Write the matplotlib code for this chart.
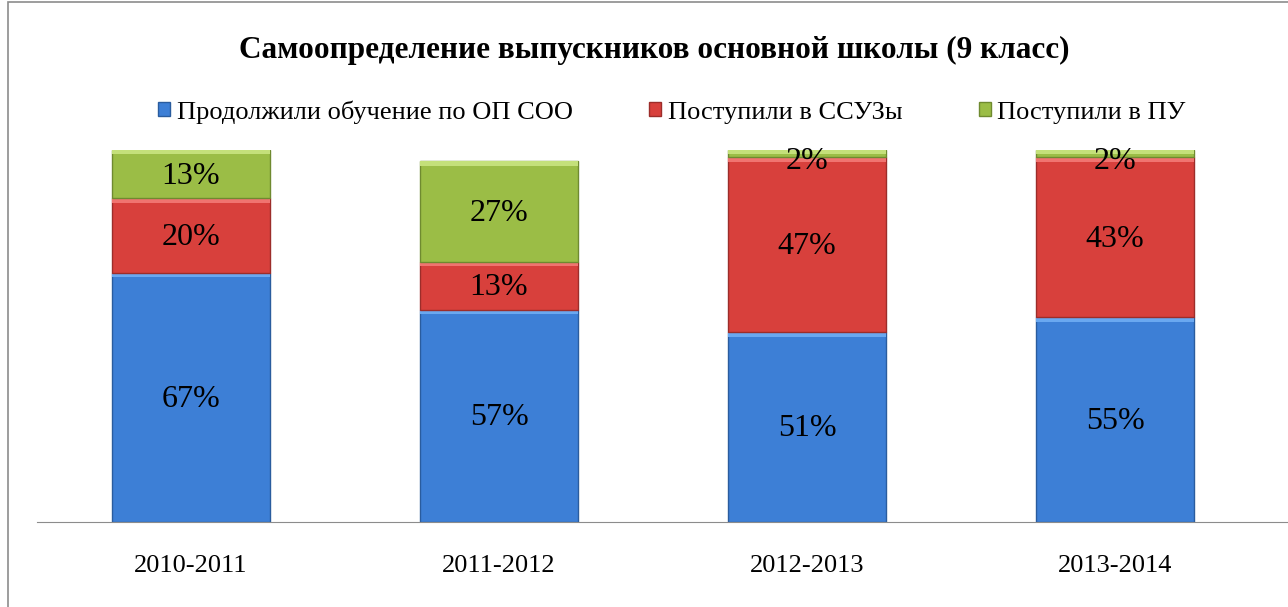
import matplotlib.pyplot as plt
from matplotlib.patches import Rectangle
import numpy as np

years = ["2010-2011", "2011-2012", "2012-2013", "2013-2014"]
series_names = ["Продолжили обучение по ОП СОО", "Поступили в ССУЗы", "Поступили в ПУ"]
continued = [67, 57, 51, 55]
colleges = [20, 13, 47, 43]
vocational = [13, 27, 2, 2]

colors = ["#3d7fd6", "#d8403c", "#9bbd46"]
edges = ["#2a5c9e", "#9c2d2a", "#6f8a30"]
tops = ["#6aa8f0", "#f07470", "#c4e07a"]

plt.rcParams['font.family'] = ['Liberation Serif', 'DejaVu Serif']

fig = plt.figure(figsize=(12.88, 6.07), dpi=100)
# outer chart frame
fig.patches.append(Rectangle((8 / 1288, -0.1), 1.2, 1.1 - 2 / 607, transform=fig.transFigure,
                             fill=False, edgecolor="#8c8c8c", linewidth=1.2))

ax = fig.add_axes([37 / 1288, 1 - 522 / 607, 1 - 37 / 1288, 372 / 607])
x = np.arange(len(years))
width = 0.516
bottom = np.zeros(len(years))
for vals, name, c, ec, tc in zip([continued, colleges, vocational], series_names, colors, edges, tops):
    vals = np.array(vals)
    ax.bar(x, vals, width, bottom=bottom, color=c, edgecolor=ec, linewidth=1, label=name)
    # light bevel on top of each segment
    ax.bar(x, np.minimum(vals, 1.2), width * 0.99, bottom=bottom + vals - np.minimum(vals, 1.2),
           color=tc, linewidth=0)
    for xi, b, v in zip(x, bottom, vals):
        if v > 5:
            ax.text(xi, b + v / 2 - 0.5, f"{v}%", ha="center", va="center", fontsize=23)
        else:
            ax.text(xi, b + v / 2 - 2, f"{v}%", ha="center", va="center", fontsize=23)
    bottom += vals

ax.set_xlim(-0.5, 3.5 + 19 / 308)
ax.set_ylim(0, 100)
ax.set_yticks([])
ax.set_xticks(x)
ax.set_xticklabels(years, fontsize=19)
ax.tick_params(axis="x", length=0, pad=24)
for s in ["top", "right", "left"]:
    ax.spines[s].set_visible(False)
ax.spines["bottom"].set_color("#8c8c8c")

fig.text(654 / 1288, 1 - 50 / 607, "Самоопределение выпускников основной школы (9 класс)",
         ha="center", va="center", fontsize=22.5, fontweight="bold")

handles = [Rectangle((0, 0), 1, 1, facecolor=c, edgecolor=ec) for c, ec in zip(colors, edges)]
fig.legend(handles, series_names, loc="center", bbox_to_anchor=(672 / 1288, 1 - 112 / 607),
           ncol=3, frameon=False, fontsize=19, handlelength=0.45, handleheight=0.45,
           handletextpad=0.25, columnspacing=2.9)

fig.savefig("out.png", dpi=100)
